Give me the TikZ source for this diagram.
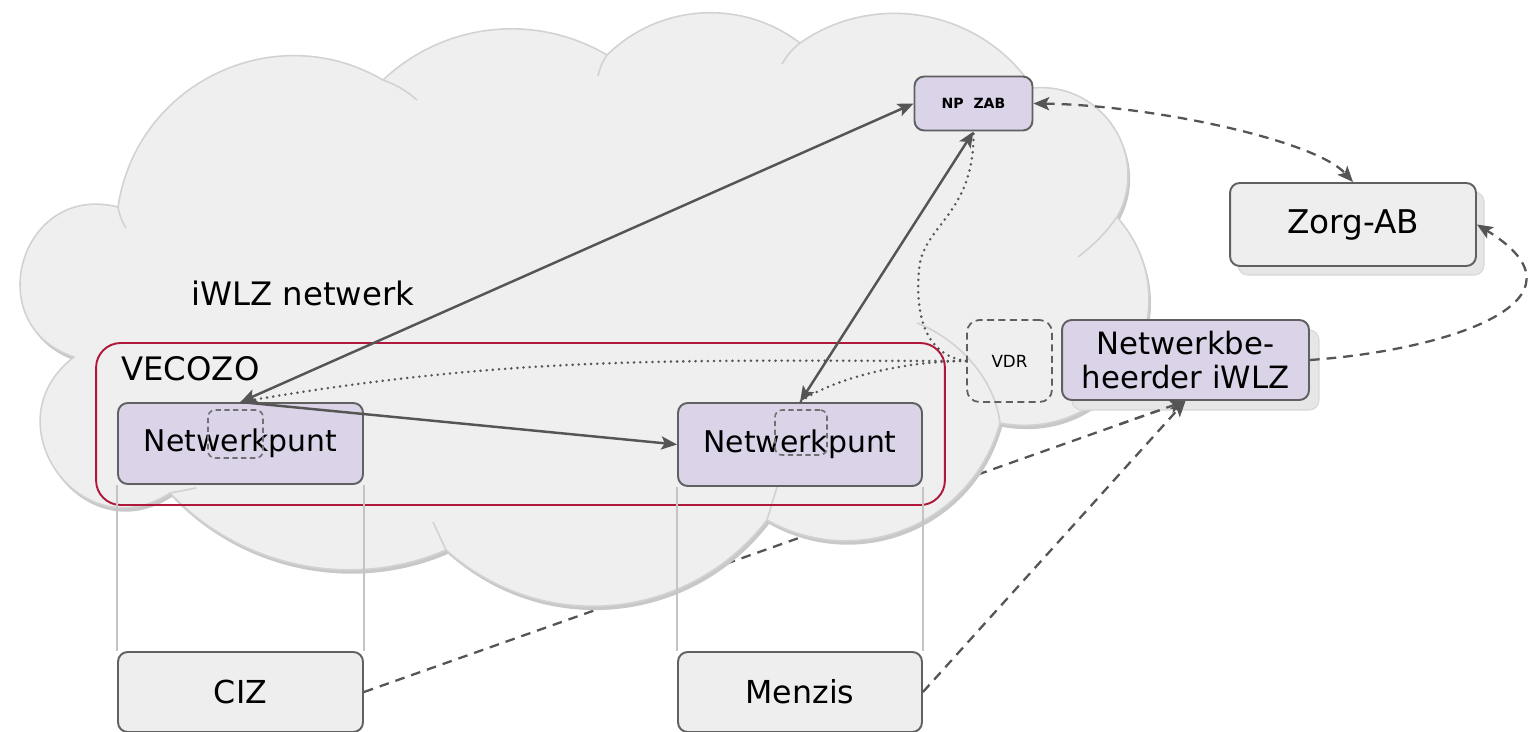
\documentclass[tikz,border=0pt]{standalone}
\usepackage{fontspec}
\setmainfont{DejaVu Sans}
\usetikzlibrary{arrows.meta,calc}
\definecolor{lav}{RGB}{219,211,232}
\definecolor{boxgrey}{RGB}{238,238,238}
\definecolor{boxline}{RGB}{96,96,96}
\definecolor{arrowc}{RGB}{85,85,85}
\definecolor{cloudfill}{RGB}{239,239,239}
\definecolor{cloudline}{RGB}{210,210,210}
\definecolor{cloudshadow}{RGB}{200,200,200}
\definecolor{vecred}{RGB}{176,24,58}
\definecolor{shfill}{RGB}{230,230,230}
\definecolor{shline}{RGB}{216,216,216}
\definecolor{laneline}{RGB}{196,196,196}
\pgfdeclarelayer{bglayer}
\pgfdeclarelayer{cloudlayer}
\pgfsetlayers{bglayer,cloudlayer,main}
\newcommand{\cloudoutline}{(74,357) to[bend left=88,looseness=1.65] (118,207)
 to[bend left=56,looseness=1.09] (383,80)
 to[bend left=37,looseness=0.95] (607,55)
 to[bend left=41,looseness=0.97] (800,43)
 to[bend left=46,looseness=1.0] (1033,88)
 to[bend left=62,looseness=1.16] (1117,217)
 to[bend left=71,looseness=1.29] (1000,423)
 to[bend left=52,looseness=1.06] (767,520)
 to[bend left=47,looseness=1.02] (446,550)
 to[bend left=35,looseness=0.93] (170,493)
 to[bend left=88,looseness=1.64] (74,357) -- cycle}
\begin{document}
\begin{tikzpicture}[x=0.02cm,y=-0.02cm,
  >={Stealth[length=9pt,width=7.5pt,inset=2pt]},
  bigtxt/.style={font=\fontsize{17}{20}\selectfont},
  box/.style={draw=boxline, line width=1.1pt, rounded corners=5.5pt, inner sep=0pt, bigtxt, align=center},
  lavbox/.style={box, fill=lav},
  greybox/.style={box, fill=boxgrey},
  shadowbox/.style={fill=shfill, draw=shline, line width=0.6pt, rounded corners=5.5pt, inner sep=0pt},
  dashbox/.style={draw=boxline!90, line width=0.9pt, dash pattern=on 3pt off 2pt, rounded corners=4pt, inner sep=0pt},
  vdrbox/.style={draw=boxline, line width=1pt, dash pattern=on 4pt off 2.5pt, rounded corners=7pt, inner sep=0pt, font=\fontsize{9.5}{11}\selectfont},
  frame/.style={draw=vecred, line width=1.1pt, rounded corners=14pt, inner sep=0pt},
  sol/.style={draw=arrowc, line width=1.4pt},
  dsh/.style={draw=arrowc, line width=1.3pt, dash pattern=on 5.5pt off 4pt},
  dots/.style={draw=arrowc, line width=1.6pt, line cap=round, dash pattern=on 0pt off 3.5pt},
  lane/.style={draw=laneline, line width=0.8pt}
]
\useasboundingbox (0,0) rectangle (1535,731);

% cloud
\begin{pgfonlayer}{cloudlayer}
  \begin{scope}[xshift=1.2pt,yshift=-2.2pt]
    \fill[cloudshadow] \cloudoutline;
  \end{scope}
  \path[fill=cloudfill, draw=cloudline, line width=0.9pt] \cloudoutline;
  \draw[cloudline, line width=0.9pt]
    (118,207) to[bend right=10] (126,228)
    (383,80) to[bend left=10] (417,100)
    (607,55) to[bend right=10] (598,76)
    (800,43) to[bend right=10] (782,64)
    (1117,217) to[bend left=8] (1078,257)
    (917,323) .. controls (960,340) and (995,380) .. (1000,423)
    (767,520) -- (777,487)
    (446,550) -- (433,522)
    (170,493) -- (196,488);
\end{pgfonlayer}

\node[font=\fontsize{18.4}{20}\selectfont, anchor=west, inner sep=0pt] (iwlz) at (191,293) {iWLZ netwerk};

% VECOZO frame
\node[frame, minimum width=16.98cm, minimum height=3.24cm] (vec) at (520.5,424) {};
\node[font=\fontsize{18.4}{20}\selectfont, anchor=west, inner sep=0pt] (veclabel) at (121,369) {VECOZO};

% boxes
\node[lavbox, minimum width=4.9cm, minimum height=1.62cm] (npl) at (240.5,443.5) {Netwerkpunt};
\node[lavbox, minimum width=4.88cm, minimum height=1.66cm] (npr) at (800,444.5) {Netwerkpunt};
\node[greybox, minimum width=4.9cm, minimum height=1.6cm, font=\fontsize{18}{20}\selectfont] (ciz) at (240.5,692) {CIZ};
\node[greybox, minimum width=4.88cm, minimum height=1.6cm, font=\fontsize{18}{20}\selectfont] (menzis) at (800,692) {Menzis};
\node[lavbox, minimum width=2.36cm, minimum height=1.08cm, font=\fontsize{8}{9}\selectfont\bfseries] (npzab) at (973.5,103.5) {NP\ \ ZAB};
\node[vdrbox, minimum width=1.7cm, minimum height=1.64cm] (vdr) at (1009.5,361) {VDR};

\node[shadowbox, minimum width=4.92cm, minimum height=1.66cm] (zorgsh) at (1361,233.5) {};
\node[greybox, minimum width=4.92cm, minimum height=1.66cm, font=\fontsize{18.6}{20}\selectfont] (zorg) at (1353,224.5) {Zorg-AB};
\node[shadowbox, minimum width=4.94cm, minimum height=1.6cm] (nbsh) at (1195.5,370) {};
\node[lavbox, minimum width=4.94cm, minimum height=1.6cm, font=\fontsize{17.5}{19.8}\selectfont] (nb) at (1185.5,360) {Netwerkbe-\\heerder iWLZ};

% small dashed boxes in Netwerkpunt
\node[dashbox, minimum width=1.1cm, minimum height=0.96cm] (sdl) at (235.5,434) {};
\node[dashbox, minimum width=1.04cm, minimum height=0.9cm] (sdr) at (801,432.5) {};

% lanes
\draw[lane] (npl.south west) -- (ciz.north west);
\draw[lane] (npl.south east) -- (ciz.north east);
\draw[lane] (npr.south west) -- (menzis.north west);
\draw[lane] (npr.south east) -- (menzis.north east);

% solid arrows
\draw[sol, <->] (npl.north) -- (npzab.west);
\draw[sol, <->] (npzab.south) -- (npr.north);
\draw[sol, ->] (npl.north) -- (npr.west);

% dotted
\coordinate (s1) at (919,270);
\draw[dots] (vdr.west) .. controls (686,361) and (517,354) .. (npl.north);
\draw[dots] (vdr.west) .. controls (900,361) and (830,380) .. (npr.north);
\draw[dots] (vdr.west) .. controls (925,355) and (915,315) .. (s1)
            .. controls (922,225) and (975,215) .. (npzab.south);

% dashed
\draw[dsh, <->] (npzab.east) .. controls (1150,105) and (1315,140) .. (zorg.north);
\draw[dsh, ->] (nb.east) .. controls (1450,350) and (1600,300) .. (zorg.east);
\draw[dsh, ->] (menzis.east) -- (nb.south);
\begin{pgfonlayer}{bglayer}
  \draw[dsh, ->] (ciz.east) -- (nb.south);
\end{pgfonlayer}
\begin{scope}
  \clip (1120,380) rectangle (1200,440);
  \draw[dsh, ->] (ciz.east) -- (nb.south);
\end{scope}
\end{tikzpicture}
\end{document}
